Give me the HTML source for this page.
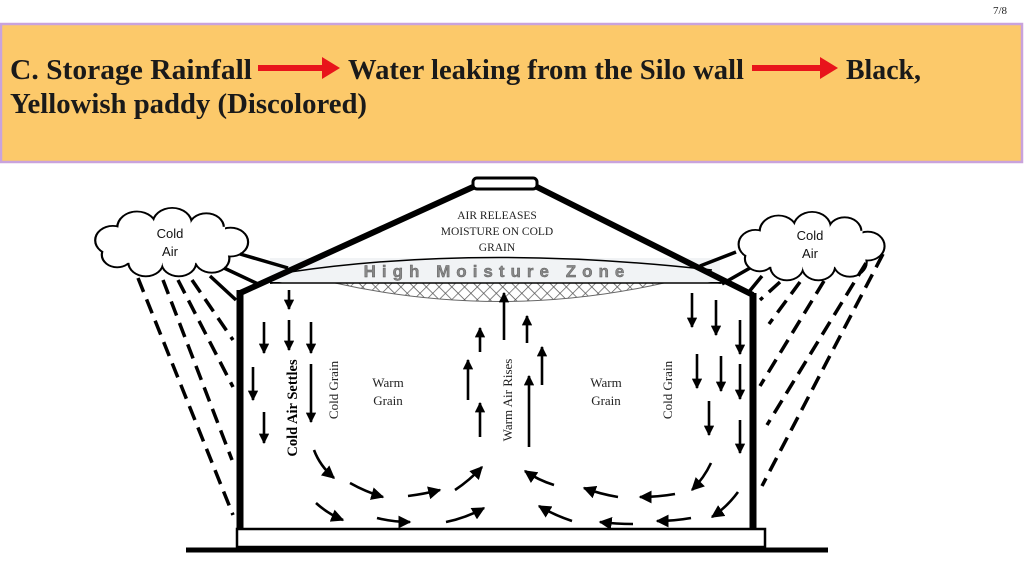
<!DOCTYPE html>
<html><head><meta charset="utf-8"><style>
html,body{margin:0;padding:0;background:#fff;width:1024px;height:576px;overflow:hidden}
svg{display:block}
</style></head><body>
<svg width="1024" height="576" viewBox="0 0 1024 576" xmlns="http://www.w3.org/2000/svg">
<defs>
<marker id="ah" viewBox="0 0 10 10" refX="9" refY="5" markerWidth="4" markerHeight="4" orient="auto" markerUnits="strokeWidth">
<path d="M0,0 L10,5 L0,10 z" fill="#000"/></marker>
<marker id="ah2" viewBox="0 0 10 10" refX="9" refY="5" markerWidth="5" markerHeight="5" orient="auto" markerUnits="strokeWidth">
<path d="M0,0 L10,5 L0,10 z" fill="#000"/></marker>
<pattern id="hatch" width="9" height="9" patternUnits="userSpaceOnUse" patternTransform="rotate(45)">
<path d="M0,0 L0,9 M0,0 L9,0" stroke="#555" stroke-width="1.4"/></pattern>
</defs>
<text x="1007" y="14" font-family="Liberation Serif,serif" font-size="11" fill="#222" text-anchor="end">7/8</text>
<rect x="1" y="24" width="1021" height="138" fill="#fcc96a" stroke="#c9a3dc" stroke-width="2.5"/>
<g font-family="Liberation Serif,serif" font-weight="bold" font-size="29" fill="#1a1a1a">
<text x="10" y="79" textLength="242" lengthAdjust="spacingAndGlyphs">C.  Storage Rainfall</text>
<text x="348" y="79" textLength="396" lengthAdjust="spacingAndGlyphs">Water leaking from the Silo wall</text>
<text x="846" y="79" textLength="75" lengthAdjust="spacingAndGlyphs">Black,</text>
<text x="10" y="113" textLength="357" lengthAdjust="spacingAndGlyphs">Yellowish paddy (Discolored)</text>
</g>
<path d="M258,65 h64 v-8 l18,11 l-18,11 v-8 h-64z" fill="#e8141b"/>
<path d="M752,65 h68 v-8 l18,11 l-18,11 v-8 h-68z" fill="#e8141b"/>

<g stroke="#000" fill="none">
<path d="M270,283 Q480,245 721,283" stroke-width="2"/>
<rect x="270" y="258" width="450" height="24" fill="#f1f3f5" stroke="none"/>
<path d="M290,272 Q480,244 712,270" stroke-width="1.5"/>
<path d="M335,283 Q500,320 664,283 z" fill="url(#hatch)" stroke="#666" stroke-width="1"/>
<line x1="270" y1="283" x2="722" y2="283" stroke-width="1.5"/>
<path d="M238,294 L473,187 M537,187 L753,295" stroke-width="6"/>
<rect x="473" y="178" width="64" height="11" rx="4" fill="#fff" stroke-width="3"/>
<line x1="240" y1="290" x2="240" y2="530" stroke-width="7"/>
<line x1="753" y1="293" x2="753" y2="530" stroke-width="7"/>
<rect x="237" y="529" width="528" height="18" fill="#fff" stroke-width="2.5"/>
<line x1="186" y1="550" x2="828" y2="550" stroke-width="5"/>
</g>
<text x="497" y="277" font-family="Liberation Sans,sans-serif" font-size="17" font-weight="bold" fill="#888" text-anchor="middle" letter-spacing="6" stroke="#555" stroke-width="0.4">High Moisture Zone</text>
<g font-family="Liberation Serif,serif" font-size="11.5" fill="#222" text-anchor="middle">
<text x="497" y="219">AIR RELEASES</text>
<text x="497" y="235">MOISTURE ON COLD</text>
<text x="497" y="251">GRAIN</text>
</g>

<g transform="translate(170,243) scale(1.1,0.9) translate(-170,-243)">
<g stroke="#000" stroke-width="4">
<circle cx="118" cy="240" r="15"/><circle cx="140" cy="226" r="17"/><circle cx="172" cy="222" r="17"/>
<circle cx="203" cy="226" r="15"/><circle cx="225" cy="242" r="15"/><circle cx="208" cy="260" r="15"/>
<circle cx="178" cy="264" r="15"/><circle cx="148" cy="264" r="15"/><circle cx="122" cy="256" r="13"/>
</g>
<g fill="#fff">
<circle cx="118" cy="240" r="15"/><circle cx="140" cy="226" r="17"/><circle cx="172" cy="222" r="17"/>
<circle cx="203" cy="226" r="15"/><circle cx="225" cy="242" r="15"/><circle cx="208" cy="260" r="15"/>
<circle cx="178" cy="264" r="15"/><circle cx="148" cy="264" r="15"/><circle cx="122" cy="256" r="13"/>
<rect x="125" y="225" width="95" height="40"/>
</g>
</g>
<g transform="translate(810,247) scale(1.05,0.9) translate(-170,-243)">
<g stroke="#000" stroke-width="4">
<circle cx="118" cy="240" r="15"/><circle cx="140" cy="226" r="17"/><circle cx="172" cy="222" r="17"/>
<circle cx="203" cy="226" r="15"/><circle cx="225" cy="242" r="15"/><circle cx="208" cy="260" r="15"/>
<circle cx="178" cy="264" r="15"/><circle cx="148" cy="264" r="15"/><circle cx="122" cy="256" r="13"/>
</g>
<g fill="#fff">
<circle cx="118" cy="240" r="15"/><circle cx="140" cy="226" r="17"/><circle cx="172" cy="222" r="17"/>
<circle cx="203" cy="226" r="15"/><circle cx="225" cy="242" r="15"/><circle cx="208" cy="260" r="15"/>
<circle cx="178" cy="264" r="15"/><circle cx="148" cy="264" r="15"/><circle cx="122" cy="256" r="13"/>
<rect x="125" y="225" width="95" height="40"/>
</g>
</g>
<g font-family="Liberation Sans,sans-serif" font-size="13" fill="#111" text-anchor="middle">
<text x="170" y="238">Cold</text><text x="170" y="256">Air</text>
<text x="810" y="240">Cold</text><text x="810" y="258">Air</text>
</g>

<g stroke="#000" stroke-width="3.5" fill="none">
<path d="M240,254 L288,268 M224,268 L258,284 M210,276 L236,300"/>
<path d="M736,252 L700,266 M750,268 L722,284 M762,276 L748,293"/>
<g stroke-dasharray="15,8">
<path d="M138,278 L233,515 M163,280 L232,460 M178,280 L233,387 M192,280 L233,340"/>
<path d="M883,254 L762,486 M866,263 L767,425 M824,281 L760,386 M800,282 L769,324 M780,282 L760,300"/>
</g>
</g>

<g stroke="#000" stroke-width="2.6" marker-end="url(#ah)">
<line x1="289" y1="290" x2="289" y2="309"/>
<line x1="289" y1="320" x2="289" y2="350"/>
<line x1="264" y1="322" x2="264" y2="353"/>
<line x1="311" y1="322" x2="311" y2="353"/>
<line x1="311" y1="364" x2="311" y2="422"/>
<line x1="253" y1="367" x2="253" y2="400"/>
<line x1="264" y1="412" x2="264" y2="443"/>
<line x1="480" y1="437" x2="480" y2="403"/>
<line x1="468" y1="400" x2="468" y2="360"/>
<line x1="480" y1="352" x2="480" y2="328"/>
<line x1="504" y1="340" x2="504" y2="293"/>
<line x1="527" y1="343" x2="527" y2="316"/>
<line x1="542" y1="385" x2="542" y2="347"/>
<line x1="529" y1="447" x2="529" y2="376"/>
<line x1="692" y1="293" x2="692" y2="327"/>
<line x1="716" y1="300" x2="716" y2="335"/>
<line x1="740" y1="320" x2="740" y2="354"/>
<line x1="697" y1="354" x2="697" y2="388"/>
<line x1="721" y1="356" x2="721" y2="391"/>
<line x1="740" y1="364" x2="740" y2="399"/>
<line x1="709" y1="401" x2="709" y2="435"/>
<line x1="740" y1="420" x2="740" y2="453"/>
</g>
<g stroke="#000" stroke-width="2.6" fill="none" marker-end="url(#ah2)">
<path d="M314,450 Q320,466 334,478"/>
<path d="M350,483 Q366,492 383,497"/>
<path d="M408,496 Q424,494 440,490"/>
<path d="M455,490 Q470,480 482,467"/>
<path d="M316,503 Q328,514 343,520"/>
<path d="M377,518 Q393,522 410,522"/>
<path d="M446,522 Q466,518 484,508"/>
<path d="M554,485 Q538,480 525,471"/>
<path d="M618,497 Q600,494 584,488"/>
<path d="M675,494 Q658,497 640,497"/>
<path d="M711,463 Q704,478 692,490"/>
<path d="M572,521 Q554,515 539,506"/>
<path d="M633,524 Q616,524 600,522"/>
<path d="M691,518 Q674,521 657,521"/>
<path d="M738,492 Q727,507 712,517"/>
</g>

<g font-family="Liberation Serif,serif" font-size="13" fill="#222" text-anchor="middle">
<text transform="translate(297,408) rotate(-90)" font-weight="bold" font-size="14.5" fill="#000">Cold Air Settles</text>
<text transform="translate(338,390) rotate(-90)">Cold Grain</text>
<text transform="translate(512,400) rotate(-90)">Warm Air Rises</text>
<text transform="translate(672,390) rotate(-90)">Cold Grain</text>
<text x="388" y="387">Warm</text><text x="388" y="405">Grain</text>
<text x="606" y="387">Warm</text><text x="606" y="405">Grain</text>
</g>
</svg>
</body></html>
